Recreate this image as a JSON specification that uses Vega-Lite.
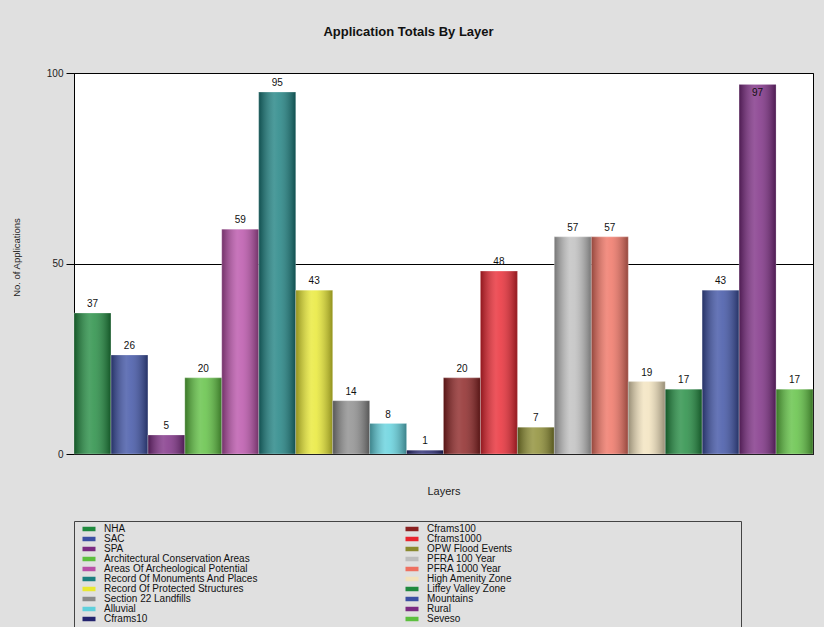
{
  "$schema": "https://vega.github.io/schema/vega-lite/v6.json",
  "width": 739,
  "height": 381,
  "autosize": {"type": "none"},
  "padding": {"left": 74, "top": 73, "right": 11, "bottom": 173},
  "background": "#e0e0e0",
  "title": {
    "text": "Application Totals By Layer",
    "fontSize": 13,
    "fontWeight": "bold",
    "font": "Liberation Sans",
    "color": "#111111",
    "anchor": "middle",
    "frame": "group",
    "dx": -35,
    "offset": 29
  },
  "data": {
    "values": [
      {"layer": "NHA", "value": 37},
      {"layer": "SAC", "value": 26},
      {"layer": "SPA", "value": 5},
      {"layer": "Architectural Conservation Areas", "value": 20},
      {"layer": "Areas Of Archeological Potential", "value": 59},
      {"layer": "Record Of Monuments And Places", "value": 95},
      {"layer": "Record Of Protected Structures", "value": 43},
      {"layer": "Section 22 Landfills", "value": 14},
      {"layer": "Alluvial", "value": 8},
      {"layer": "Cframs10", "value": 1},
      {"layer": "Cframs100", "value": 20},
      {"layer": "Cframs1000", "value": 48},
      {"layer": "OPW Flood Events", "value": 7},
      {"layer": "PFRA 100 Year", "value": 57},
      {"layer": "PFRA 1000 Year", "value": 57},
      {"layer": "High Amenity Zone", "value": 19},
      {"layer": "Liffey Valley Zone", "value": 17},
      {"layer": "Mountains", "value": 43},
      {"layer": "Rural", "value": 97},
      {"layer": "Seveso", "value": 17}
    ]
  },
  "encoding": {
    "x": {
      "field": "layer",
      "type": "nominal",
      "sort": ["NHA", "SAC", "SPA", "Architectural Conservation Areas", "Areas Of Archeological Potential", "Record Of Monuments And Places", "Record Of Protected Structures", "Section 22 Landfills", "Alluvial", "Cframs10", "Cframs100", "Cframs1000", "OPW Flood Events", "PFRA 100 Year", "PFRA 1000 Year", "High Amenity Zone", "Liffey Valley Zone", "Mountains", "Rural", "Seveso"],
      "scale": {"paddingInner": 0, "paddingOuter": 0},
      "axis": {
        "labels": false,
        "ticks": false,
        "domain": false,
        "title": "Layers",
        "titleFontSize": 11,
        "titleFontWeight": "normal",
        "titleColor": "#222222",
        "titlePadding": 31
      }
    },
    "y": {
      "field": "value",
      "type": "quantitative",
      "scale": {"domain": [0, 100]},
      "axis": {
        "values": [0, 50, 100],
        "title": "No. of Applications",
        "titleFontSize": 9.5,
        "titleFontWeight": "normal",
        "titleColor": "#222222",
        "titlePadding": 25,
        "titleY": 184,
        "labelFontSize": 10,
        "labelColor": "#222222",
        "labelPadding": 3,
        "tickSize": 8,
        "tickColor": "#000000",
        "domainColor": "#000000",
        "gridColor": "#000000",
        "gridOpacity": 1,
        "grid": true
      }
    }
  },
  "layer": [
    {
      "mark": {"type": "bar"},
      "encoding": {
        "color": {
          "field": "layer",
          "type": "nominal",
          "scale": {
            "domain": ["NHA", "SAC", "SPA", "Architectural Conservation Areas", "Areas Of Archeological Potential", "Record Of Monuments And Places", "Record Of Protected Structures", "Section 22 Landfills", "Alluvial", "Cframs10", "Cframs100", "Cframs1000", "OPW Flood Events", "PFRA 100 Year", "PFRA 1000 Year", "High Amenity Zone", "Liffey Valley Zone", "Mountains", "Rural", "Seveso"],
            "range": ["#1f8a3e", "#3b4fa3", "#7b2a82", "#5cbf3e", "#b84fa8", "#1a7f7f", "#e8e830", "#8a8a8a", "#5fd0dc", "#23236e", "#8a2020", "#e8252f", "#8a8a2e", "#bdbdbd", "#ee7060", "#f2e2bc", "#1f8a3e", "#3b4fa3", "#7b2a82", "#5cbf3e"]
          },
          "legend": {
            "orient": "none",
            "legendX": 0,
            "legendY": 448,
            "columns": 2,
            "columnPadding": 142,
            "rowPadding": 0,
            "padding": 3,
            "strokeColor": "#444444",
            "symbolType": "M-1.625,-0.56H1.625V0.56H-1.625Z",
            "symbolSize": 64,
            "symbolStrokeWidth": 0,
            "symbolOffset": 7,
            "symbolOpacity": 1,
            "labelFontSize": 10,
            "labelColor": "#111111",
            "labelLimit": 600,
            "labelOffset": 10,
            "title": null,
            "labelExpr": "indexof(['Cframs100','Cframs1000','OPW Flood Events','PFRA 100 Year','PFRA 1000 Year','High Amenity Zone','Liffey Valley Zone','Mountains','Rural','Seveso'], datum.value) >= 0 ? pad(datum.label, 97, '\u00a0') + '\u200b' : datum.label"
          }
        }
      }
    },
    {
      "mark": {
        "type": "bar",
        "fill": {
          "gradient": "linear",
          "x1": 0, "y1": 0, "x2": 1, "y2": 0,
          "stops": [
            {"offset": 0, "color": "rgba(0,0,0,0.38)"},
            {"offset": 0.42, "color": "rgba(255,255,255,0.22)"},
            {"offset": 0.55, "color": "rgba(255,255,255,0.18)"},
            {"offset": 1, "color": "rgba(0,0,0,0.38)"}
          ]
        },
        "stroke": "rgba(255,255,255,0.25)",
        "strokeWidth": 1
      },
      "encoding": {}
    },
    {
      "transform": [{"filter": "datum.value < 96"}],
      "mark": {"type": "text", "dy": -6, "fontSize": 10, "color": "#111111", "baseline": "alphabetic"},
      "encoding": {"text": {"field": "value", "type": "quantitative"}}
    },
    {
      "transform": [{"filter": "datum.value >= 96"}],
      "mark": {"type": "text", "dy": 12, "fontSize": 10, "color": "#111111", "baseline": "alphabetic"},
      "encoding": {"text": {"field": "value", "type": "quantitative"}}
    }
  ],
  "config": {
    "font": "Liberation Sans",
    "view": {"fill": "#ffffff", "stroke": "#000000", "strokeWidth": 1},
    "axis": {"gridWidth": 1}
  }
}
